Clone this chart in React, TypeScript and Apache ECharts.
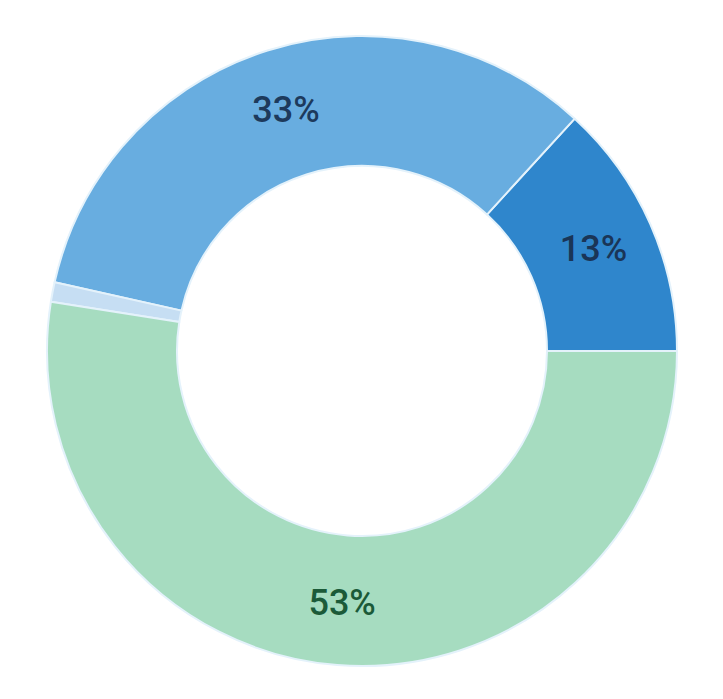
import React, { useEffect, useRef } from "react";
import * as echarts from "echarts";

const categories = ["A", "B", "C", "D"];
const values = [13.2, 33.3, 1.0, 52.5];
const colors = ["#2f86cc", "#68ade0", "#c6def3", "#a6dcc0"];
const labelColors = ["#1a3557", "#1d3a5c", "#1d3a5c", "#1b5a38"];
const showLabel = [true, true, false, true];

export default function App() {
  const ref = useRef<HTMLDivElement>(null);
  useEffect(() => {
    const chart = echarts.init(ref.current!, null, { renderer: "svg" });
    chart.setOption({
      animation: false,
      backgroundColor: "#ffffff",
      series: [
        {
          type: "pie",
          center: [362, 351],
          radius: [185, 315],
          startAngle: 0,
          clockwise: false,
          avoidLabelOverlap: false,
          itemStyle: { borderColor: "#e4f2fb", borderWidth: 2 },
          label: {
            position: "inside",
            formatter: (p: any) => Math.round(p.value) + "%",
            fontSize: 36,
            fontWeight: 500,
            fontFamily: "Roboto, Arial, sans-serif",
          },
          labelLine: { show: false },
          data: categories.map((name, i) => ({
            name,
            value: values[i],
            itemStyle: { color: colors[i] },
            label: { show: showLabel[i], color: labelColors[i] },
          })),
        },
      ],
    });
    return () => chart.dispose();
  }, []);
  return (
    <div
      ref={ref}
      style={{ position: "fixed", left: 0, top: 0, width: 723, height: 699 }}
    />
  );
}
